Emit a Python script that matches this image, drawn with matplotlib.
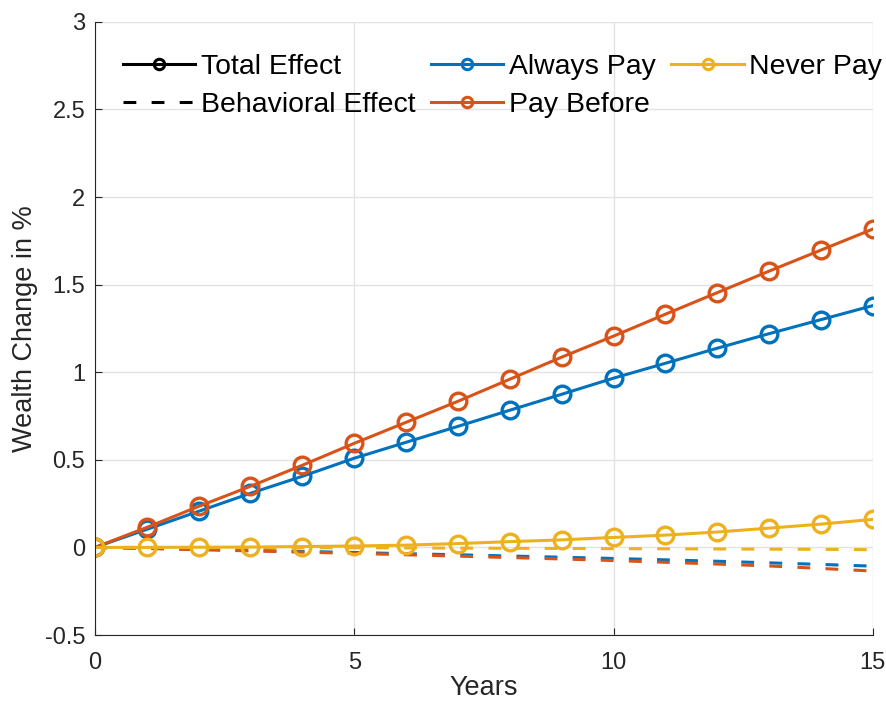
import numpy as np
import matplotlib
matplotlib.use("Agg")
import matplotlib.pyplot as plt
from matplotlib.lines import Line2D

plt.rcParams['font.family'] = ['Liberation Sans', 'DejaVu Sans']

# Datos
years = list(range(16))
total_always = [0, 0.103, 0.206, 0.309, 0.406, 0.509, 0.600, 0.691, 0.783, 0.874,
                0.966, 1.051, 1.137, 1.220, 1.300, 1.380]
total_before = [0, 0.114, 0.234, 0.349, 0.469, 0.594, 0.714, 0.834, 0.960, 1.086,
                1.206, 1.331, 1.454, 1.577, 1.697, 1.817]
total_never = [0, 0.0, 0.001, 0.002, 0.005, 0.008, 0.013, 0.022, 0.033, 0.043,
               0.057, 0.070, 0.088, 0.110, 0.133, 0.160]
behav_always = [0, -0.005, -0.011, -0.017, -0.023, -0.029, -0.036, -0.042, -0.049,
                -0.056, -0.063, -0.071, -0.079, -0.088, -0.097, -0.107]
behav_before = [0, -0.006, -0.013, -0.020, -0.027, -0.034, -0.042, -0.050, -0.058,
                -0.066, -0.075, -0.085, -0.095, -0.106, -0.120, -0.135]
behav_never = [0, 0, -0.001, -0.001, -0.002, -0.002, -0.003, -0.004, -0.005,
               -0.006, -0.007, -0.008, -0.009, -0.010, -0.011, -0.013]

azul = (0, 0.447, 0.741)
naranja = (0.85, 0.325, 0.098)
amarillo = (0.929, 0.694, 0.125)

fig = plt.figure(figsize=(8.87, 7.04), dpi=100)
ax = fig.add_axes([0.107, 0.098, 0.877, 0.871])

lw = 2.2
guiones = (4.2, 5)
mk = dict(marker='o', markersize=12, markerfacecolor='none', markeredgewidth=2.4)
ax.plot(years, behav_always, '--', color=azul, lw=lw, dashes=guiones)
ax.plot(years, behav_before, '--', color=naranja, lw=lw, dashes=guiones)
ax.plot(years, behav_never, '--', color=amarillo, lw=lw, dashes=guiones)
ax.plot(years, total_always, color=azul, lw=lw, markeredgecolor=azul, **mk)
ax.plot(years, total_before, color=naranja, lw=lw, markeredgecolor=naranja, **mk)
ax.plot(years, total_never, color=amarillo, lw=lw, markeredgecolor=amarillo, **mk)

ax.set_xlim(0, 15)
ax.set_ylim(-0.5, 3)
ax.set_xticks([0, 5, 10, 15])
ax.set_yticks(np.arange(-0.5, 3.01, 0.5))
ax.set_yticklabels(['-0.5', '0', '0.5', '1', '1.5', '2', '2.5', '3'])
ax.grid(True, color='#e3e3e3', lw=1)
ax.set_axisbelow(True)
for s in ['top', 'right']:
    ax.spines[s].set_visible(False)
for s in ['left', 'bottom']:
    ax.spines[s].set_color('#262626')
ax.tick_params(direction='in', labelsize=17, colors='#262626', length=5)
ax.tick_params(axis='x', pad=12)
ax.tick_params(axis='y', pad=7)
ax.set_xlabel('Years', fontsize=19.5, color='#262626')
ax.set_ylabel('Wealth Change in %', fontsize=19.5, color='#262626')
ax.xaxis.set_label_coords(0.5, -0.065)
ax.yaxis.set_label_coords(-0.073, 0.5)

lm = dict(marker='o', markersize=7.5, markerfacecolor='none', markeredgewidth=2.2)
handles = [
    Line2D([], [], color='black', lw=lw, **lm),
    Line2D([], [], color='black', lw=lw, ls='--', dashes=guiones),
    Line2D([], [], color=azul, lw=lw, **lm),
    Line2D([], [], color=naranja, lw=lw, **lm),
    Line2D([], [], color=amarillo, lw=lw, **lm),
]
labels = ['Total Effect', 'Behavioral Effect', 'Always Pay', 'Pay Before', 'Never Pay']
ax.legend(handles, labels, ncol=3, loc='upper left', frameon=False, fontsize=20.4,
          handlelength=2.55, handletextpad=0.2, columnspacing=0.55, labelspacing=0.42,
          borderpad=0, borderaxespad=0, bbox_to_anchor=(0.036, 0.947))

fig.savefig('out.png', dpi=100)
